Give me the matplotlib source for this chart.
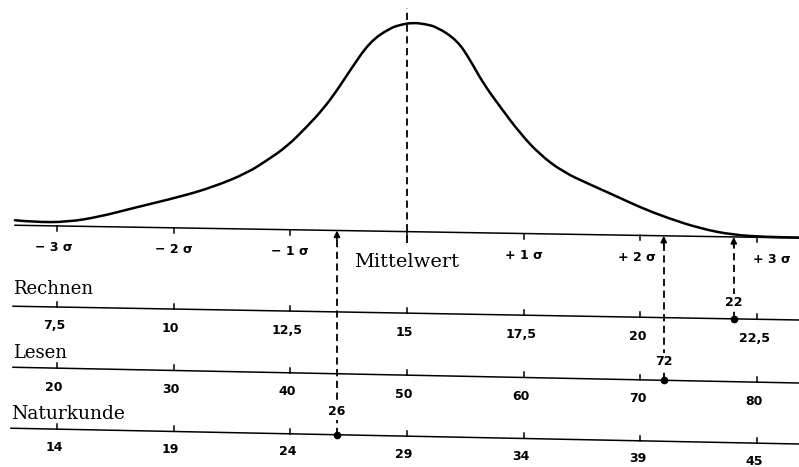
import matplotlib.pyplot as plt
from matplotlib.path import Path
from matplotlib.patches import PathPatch
import numpy as np

# Normal curve (traced), in sigma units and height above the base line
curve_sigma = [-3.36, -3.20, -2.91, -2.63, -2.35, -1.95, -1.66, -1.37, -1.20, -1.03,
               -0.86, -0.72, -0.60, -0.49, -0.32, -0.15, -0.05, 0.05, 0.15, 0.26,
               0.43, 0.54, 0.65, 0.80, 0.97, 1.14, 1.34, 1.57, 1.77, 2.00,
               2.23, 2.51, 2.79, 3.08, 3.36]
curve_height = [5, 3.5, 4, 10, 19, 31, 41.5, 56, 69, 83,
                103, 121, 140, 160, 189, 203, 207, 209, 208, 205,
                192, 173, 150, 126, 100, 79, 62, 50, 40, 28,
                18, 8, 2, 0.5, 0.5]

sigma_ticks = [-3, -2, -1, 0, 1, 2, 3]
sigma_labels = ['− 3 σ', '− 2 σ', '− 1 σ', '', '+ 1 σ', '+ 2 σ', '+ 3 σ']

subjects = ['Rechnen', 'Lesen', 'Naturkunde']
subject_mean = [15, 50, 29]
subject_sd = [2.5, 10, 5]
rechnen_labels = ['7,5', '10', '12,5', '15', '17,5', '20', '22,5']
lesen_labels = ['20', '30', '40', '50', '60', '70', '80']
naturkunde_labels = ['14', '19', '24', '29', '34', '39', '45']
scale_labels = [rechnen_labels, lesen_labels, naturkunde_labels]
student_scores = [22, 72, 26]

# layout: pixel frame, x measured in sigma units
PX_SIGMA = 116.7
MEAN_PX = 407
XMIN, XMAX = -MEAN_PX / PX_SIGMA, (799 - MEAN_PX) / PX_SIGMA

# each line: y at left and right edge (slightly tilted page)
base_row = (225, 238)
subject_rows = [(306, 320), (367, 383), (428, 444)]
subject_name_y = [294, 358, 419]
subject_name_size = [13, 13, 13.5]
line_start = [15, 13, 13, 11]
tick_label_gap = [19, 19, 18]
value_label_gap = [16, 19, 23]
sigma_label_shift = [-0.03, 0, 0, 0, 0, -0.03, 0.13]

def y_on(row, s):
    y0, y1 = row
    return y0 + (y1 - y0) * (s - XMIN) / (XMAX - XMIN)

def px_to_sigma(px):
    return (px - MEAN_PX) / PX_SIGMA

def smooth_path(xs, ys):
    # quadratic segments through the midpoints, traced points as control points
    pts = np.column_stack([xs, ys])
    verts = [pts[0]]
    codes = [Path.MOVETO]
    for k in range(1, len(pts) - 1):
        verts += [pts[k], (pts[k] + pts[k + 1]) / 2]
        codes += [Path.CURVE3, Path.CURVE3]
    verts.append(pts[-1])
    codes.append(Path.LINETO)
    return Path(verts, codes)

fig = plt.figure(figsize=(7.99, 4.67), dpi=100)
ax = fig.add_axes([0, 0, 1, 1])
ax.set_xlim(XMIN, XMAX)
ax.set_ylim(467, 0)
ax.axis('off')

serif = 'DejaVu Serif'
sans = 'DejaVu Sans'
num_font = dict(fontsize=9, family=sans, fontweight='bold')

# bell curve
cs = np.array(curve_sigma)
cy = np.array([y_on(base_row, s) for s in cs]) - np.array(curve_height)
ax.add_patch(PathPatch(smooth_path(cs, cy), fill=False, edgecolor='black', lw=1.8,
                       capstyle='round', joinstyle='round'))

# base line with sigma ticks
s0 = px_to_sigma(line_start[0])
ax.plot([s0, XMAX], [y_on(base_row, s0), y_on(base_row, XMAX)], color='black', lw=1.1)
for s, lab, dx in zip(sigma_ticks, sigma_labels, sigma_label_shift):
    yb = y_on(base_row, s)
    ax.plot([s, s], [yb, yb + 5], color='black', lw=1.1)
    if lab:
        ax.text(s + dx, yb + 22, lab, ha='center', va='center', **num_font)

# mean line
yb0 = y_on(base_row, 0)
ax.plot([0, 0], [yb0 + 11, 8], color='black', lw=1.3, dashes=(4, 2.5))
ax.text(0, 267, 'Mittelwert', ha='center', va='baseline', fontsize=14, family=serif)

# subject scales
for i, name in enumerate(subjects):
    row = subject_rows[i]
    s0 = px_to_sigma(line_start[i + 1])
    ax.plot([s0, XMAX], [y_on(row, s0), y_on(row, XMAX)], color='black', lw=1.1)
    ax.text(s0, subject_name_y[i], name, ha='left', va='baseline',
            fontsize=subject_name_size[i], family=serif)
    for s, lab in zip(sigma_ticks, scale_labels[i]):
        yl = y_on(row, s)
        ax.plot([s, s], [yl, yl - 5], color='black', lw=1.1)
        ax.text(s - 0.025, yl + tick_label_gap[i], lab, ha='center', va='center',
                **num_font)

    # student's score: point on the scale, dashed arrow up to the curve base
    z = (student_scores[i] - subject_mean[i]) / subject_sd[i]
    yp = y_on(row, z)
    yb = y_on(base_row, z)
    ax.plot([z], [yp], 'o', color='black', ms=4.5, zorder=4)
    ax.plot([z, z], [yp, yb + 8], color='black', lw=1.3, dashes=(4, 2.5), zorder=2)
    ax.annotate('', xy=(z, yb), xytext=(z, yb + 9),
                arrowprops=dict(arrowstyle='-|>', color='black', lw=1.2,
                                mutation_scale=9, shrinkA=0, shrinkB=0))
    ax.text(z, yp - value_label_gap[i], str(student_scores[i]), ha='center',
            va='center', zorder=5, bbox=dict(fc='white', ec='none', pad=1.5),
            **num_font)

fig.savefig('out.png', dpi=100)
